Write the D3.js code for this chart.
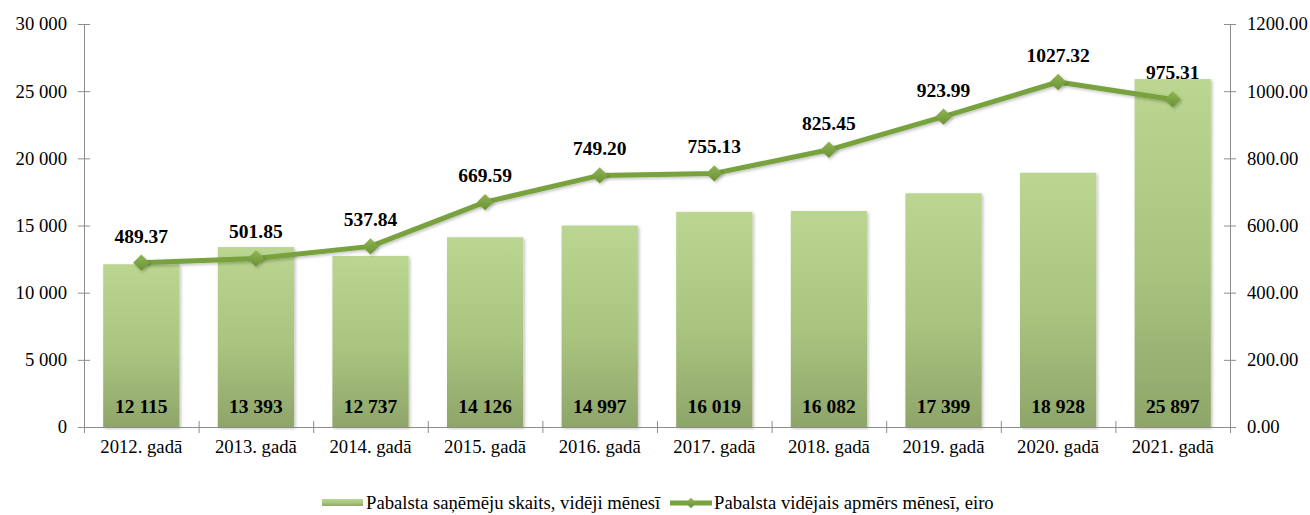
<!DOCTYPE html>
<html>
<head>
<meta charset="utf-8">
<title>Pabalsts</title>
<style>
  body { margin: 0; background: #fff; }
</style>
</head>
<body>
<script src="https://cdn.jsdelivr.net/npm/d3@7"></script>
<script>
// data
var years = ["2012. gadā", "2013. gadā", "2014. gadā", "2015. gadā", "2016. gadā",
             "2017. gadā", "2018. gadā", "2019. gadā", "2020. gadā", "2021. gadā"];
var recipients = [12115, 13393, 12737, 14126, 14997, 16019, 16082, 17399, 18928, 25897];
var avgAmount = [489.37, 501.85, 537.84, 669.59, 749.20, 755.13, 825.45, 923.99, 1027.32, 975.31];
var leftTicks = [0, 5000, 10000, 15000, 20000, 25000, 30000];
var rightTicks = [0, 200, 400, 600, 800, 1000, 1200];
var barName = "Pabalsta saņēmēju skaits, vidēji mēnesī";
var lineName = "Pabalsta vidējais apmērs mēnesī, eiro";

var W = 1310, H = 515;
var margin = {top: 24, right: 80, bottom: 88, left: 84};
var width = W - margin.left - margin.right,
    height = H - margin.top - margin.bottom;
var serif = "'Liberation Serif'";
var fsText = "18.7px", fsBold = "19.5px";

var svg = d3.select("body").append("svg")
  .attr("width", W).attr("height", H);

var defs = svg.append("defs");
var grad = defs.append("linearGradient")
  .attr("id", "barGrad").attr("x1", 0).attr("y1", 0).attr("x2", 0).attr("y2", 1);
grad.append("stop").attr("offset", "0%").attr("stop-color", "#bad690");
grad.append("stop").attr("offset", "55%").attr("stop-color", "#a9c47f");
grad.append("stop").attr("offset", "100%").attr("stop-color", "#8ea569");

var mgrad = defs.append("linearGradient")
  .attr("id", "mkGrad").attr("x1", 0).attr("y1", 0).attr("x2", 0).attr("y2", 1);
mgrad.append("stop").attr("offset", "0%").attr("stop-color", "#8fb456");
mgrad.append("stop").attr("offset", "100%").attr("stop-color", "#6a9231");

var shadow = defs.append("filter").attr("id", "shd")
  .attr("x", "-20%").attr("y", "-20%").attr("width", "150%").attr("height", "150%");
shadow.append("feDropShadow").attr("dx", 1.5).attr("dy", 1.5).attr("stdDeviation", 1.5)
  .attr("flood-color", "#000").attr("flood-opacity", 0.25);

var chart = svg.append("g")
  .attr("transform", "translate(" + margin.left + "," + margin.top + ")");

// scales
var x = d3.scaleBand().domain(years).range([0, width]).paddingInner(0.335).paddingOuter(0.1675);
var yL = d3.scaleLinear().domain([0, 30000]).range([height, 0]);
var yR = d3.scaleLinear().domain([0, 1200]).range([height, 0]);

var fmtInt = function(v){ return d3.format(",")(v).replace(/,/g, "\u00a0"); };

// bars
chart.selectAll("rect.bar")
  .data(recipients)
  .enter().append("rect")
  .attr("class", "bar")
  .attr("x", function(d, i){ return x(years[i]); })
  .attr("y", function(d){ return yL(d); })
  .attr("width", x.bandwidth())
  .attr("height", function(d){ return height - yL(d); })
  .attr("fill", "url(#barGrad)")
  .attr("filter", "url(#shd)");

// axes
var axisColor = "#8c8c8c";
var gL = chart.append("g")
  .call(d3.axisLeft(yL).tickValues(leftTicks).tickSize(6).tickSizeOuter(0).tickFormat(fmtInt));
gL.selectAll(".tick line").attr("x1", 6);
var gR = chart.append("g").attr("transform", "translate(" + width + ",0)")
  .call(d3.axisRight(yR).tickValues(rightTicks).tickSize(6).tickSizeOuter(0).tickFormat(d3.format(".2f")));
gR.selectAll(".tick line").attr("x1", -6);
var xb = d3.scaleLinear().domain([0, years.length]).range([0, width]);
var gB = chart.append("g").attr("transform", "translate(0," + height + ")")
  .call(d3.axisBottom(xb).tickValues(d3.range(0, years.length + 1)).tickSize(6).tickSizeOuter(0).tickFormat(""));
gB.selectAll(".tick line").attr("y1", -6);

[gL, gR, gB].forEach(function(g){
  g.selectAll("path.domain").attr("stroke", axisColor);
  g.selectAll(".tick line").attr("stroke", axisColor);
  g.selectAll("text").attr("fill", "#000")
    .style("font-family", serif).style("font-size", fsText);
});
gL.selectAll("text").attr("x", -17);
gR.selectAll("text").attr("x", 17);

// category labels
chart.selectAll("text.cat")
  .data(years).enter().append("text")
  .attr("class", "cat")
  .attr("x", function(d){ return x(d) + x.bandwidth() / 2; })
  .attr("y", height + 26)
  .attr("text-anchor", "middle")
  .style("font-family", serif).style("font-size", fsText)
  .text(function(d){ return d; });

// bar value labels
chart.selectAll("text.barval")
  .data(recipients).enter().append("text")
  .attr("class", "barval")
  .attr("x", function(d, i){ return x(years[i]) + x.bandwidth() / 2; })
  .attr("y", height - 14)
  .attr("text-anchor", "middle")
  .style("font-family", serif).style("font-size", fsBold).style("font-weight", "bold")
  .text(function(d){ return fmtInt(d); });

// line
var cx = function(i){ return x(years[i]) + x.bandwidth() / 2; };
var line = d3.line()
  .x(function(d, i){ return cx(i); })
  .y(function(d){ return yR(d); });

chart.append("path")
  .datum(avgAmount)
  .attr("d", line)
  .attr("fill", "none")
  .attr("stroke", "#77a23d")
  .attr("stroke-width", 5)
  .attr("stroke-linejoin", "round")
  .attr("filter", "url(#shd)");

var diamond = d3.symbol().type(d3.symbolDiamond2).size(170);
chart.selectAll("path.mk")
  .data(avgAmount).enter().append("path")
  .attr("class", "mk")
  .attr("d", diamond)
  .attr("transform", function(d, i){ return "translate(" + cx(i) + "," + yR(d) + ")"; })
  .attr("fill", "url(#mkGrad)")
  .attr("filter", "url(#shd)");

chart.selectAll("text.lineval")
  .data(avgAmount).enter().append("text")
  .attr("class", "lineval")
  .attr("x", function(d, i){ return cx(i); })
  .attr("y", function(d){ return yR(d) - 20; })
  .attr("text-anchor", "middle")
  .style("font-family", serif).style("font-size", fsBold).style("font-weight", "bold")
  .text(function(d){ return d.toFixed(2); });

// legend
var legend = svg.append("g").attr("transform", "translate(0,503)");
legend.append("rect")
  .attr("x", 322).attr("y", -4).attr("width", 41).attr("height", 7)
  .attr("fill", "url(#barGrad)");
legend.append("text")
  .attr("x", 366).attr("y", 6)
  .style("font-family", serif).style("font-size", fsText)
  .text(barName);
legend.append("line")
  .attr("x1", 670).attr("x2", 712).attr("y1", 0).attr("y2", 0)
  .attr("stroke", "#77a23d").attr("stroke-width", 5);
legend.append("path")
  .attr("d", d3.symbol().type(d3.symbolDiamond2).size(70))
  .attr("transform", "translate(691,0)")
  .attr("fill", "url(#mkGrad)");
legend.append("text")
  .attr("x", 714).attr("y", 6)
  .style("font-family", serif).style("font-size", fsText)
  .text(lineName);
</script>
</body>
</html>
